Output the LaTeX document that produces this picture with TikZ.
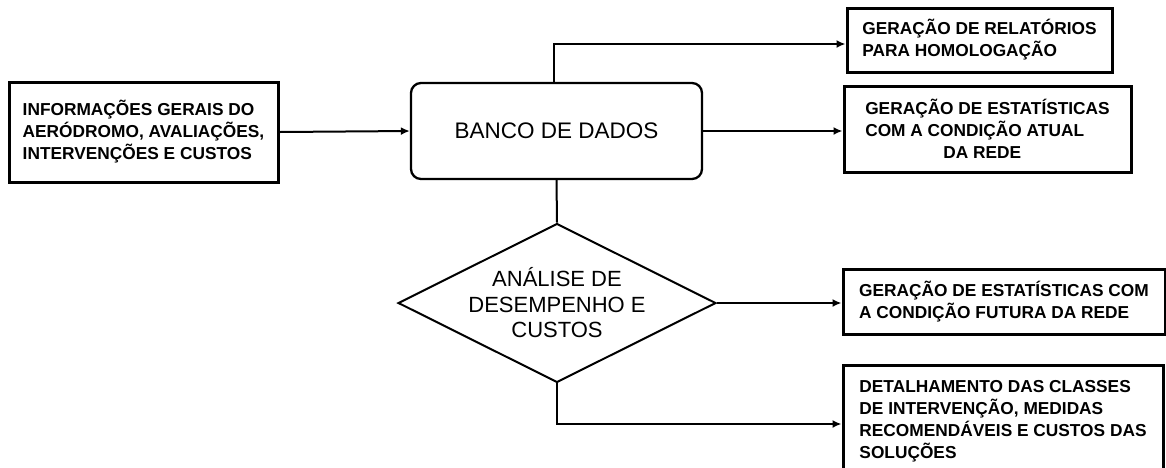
\documentclass[tikz,border=0pt]{standalone}
\usepackage{fontspec}
\setmainfont{Liberation Sans}
\usetikzlibrary{shapes.geometric,arrows.meta}

\begin{document}
\begin{tikzpicture}[x=1pt, y=-1pt,
    caixa/.style={draw, line width=3pt, align=left, inner sep=0pt,
        font=\fontsize{17.3}{22}\selectfont\bfseries},
    banco/.style={draw, line width=2.3pt, rounded corners=10pt,
        minimum width=291pt, minimum height=96pt,
        font=\fontsize{22.5}{26}\selectfont},
    decisao/.style={draw, diamond, aspect=2, line width=2pt, inner sep=0pt,
        minimum width=310pt, minimum height=155pt, align=center,
        font=\fontsize{22}{25.5}\selectfont},
    seta/.style={line width=2pt, -{Latex[length=9pt,width=8pt]}}]
                    \useasboundingbox (0,0) rectangle (1166,467);
                    \clip (0,0) rectangle (1166,467);

                    \node[caixa, minimum width=269pt, minimum height=100pt] (info) at (143.5,132)
                        {INFORMAÇÕES GERAIS DO\\AERÓDROMO, AVALIAÇÕES,\\INTERVENÇÕES E CUSTOS};
                    \node[banco] (bd) at (556.5,131) {BANCO DE DADOS};
                    \node[decisao] (analise) at (557,303) {ANÁLISE DE\\DESEMPENHO E\\CUSTOS};

                    \node[caixa, minimum width=265pt, minimum height=64pt] (relat) at (979.5,40)
                        {GERAÇÃO DE RELATÓRIOS\\PARA HOMOLOGAÇÃO};
                    \node[caixa, minimum width=287pt, minimum height=86pt] (atual) at (987.5,129)
                        {GERAÇÃO DE ESTATÍSTICAS\\COM A CONDIÇÃO ATUAL\\\hspace*{78pt}DA REDE};
                    \node[caixa, minimum width=322pt, minimum height=65pt] (futura) at (1004,301.5)
                        {GERAÇÃO DE ESTATÍSTICAS COM\\A CONDIÇÃO FUTURA DA REDE};
                    \node[caixa, minimum width=320pt, minimum height=112pt] (detal) at (1003,421)
                        {DETALHAMENTO DAS CLASSES\\DE INTERVENÇÃO, MEDIDAS\\RECOMENDÁVEIS E CUSTOS DAS\\SOLUÇÕES};

                    \draw[seta] (info.east) -- (bd.west);
                    \draw[seta] ([xshift=-2.5pt]bd.north) |- ([yshift=-4pt]relat.west);
                    \draw[seta] (bd.east) -- (bd.east -| atual.west);
                    \draw[line width=2pt] (bd.south) -- (analise.north);
                    \draw[seta] (analise.east) -- (analise.east -| futura.west);
                    \draw[seta] (analise.south) |- ([yshift=-3pt]detal.west);
                \end{tikzpicture}
\end{document}
